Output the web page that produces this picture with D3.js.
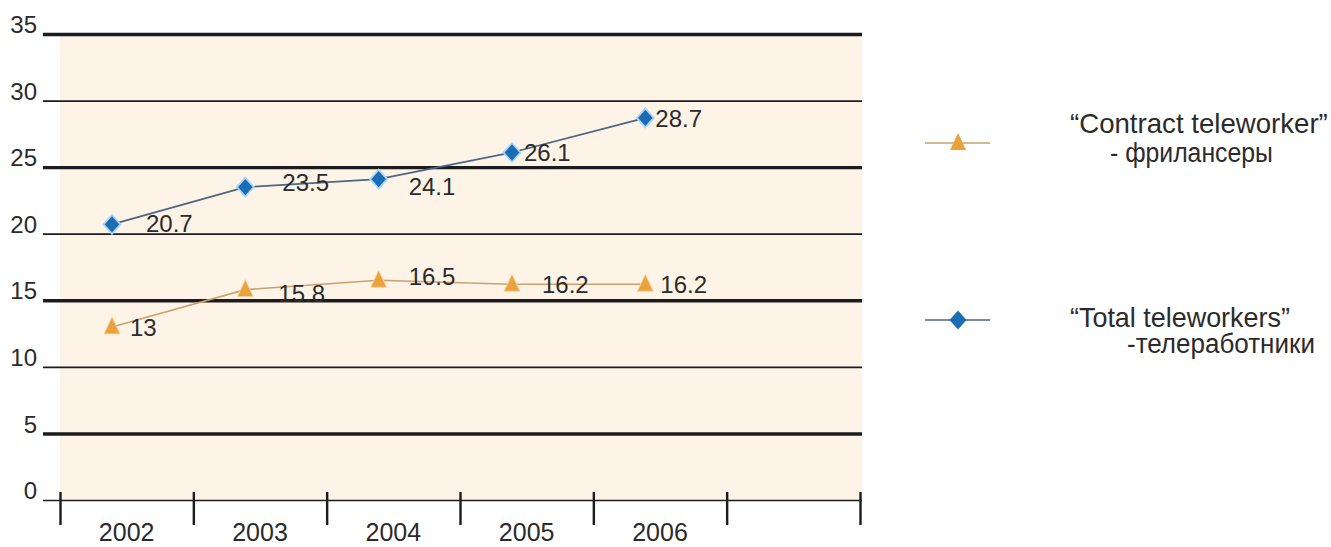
<!DOCTYPE html>
<html>
<head>
<meta charset="utf-8">
<script src="https://cdn.jsdelivr.net/npm/d3@7"></script>
<style>
  body { margin: 0; background: #fff; }
  text { font-family: "Liberation Sans", Arial, Helvetica, sans-serif; fill: #2b2b2b; }
</style>
</head>
<body>
<div id="chart"></div>
<script>
// data
var years = ["2002", "2003", "2004", "2005", "2006"];
var totalTele = [20.7, 23.5, 24.1, 26.1, 28.7];
var contractTele = [13, 15.8, 16.5, 16.2, 16.2];
var yTicks = [0, 5, 10, 15, 20, 25, 30, 35];

var svg = d3.select("#chart").append("svg")
  .attr("width", 1331)
  .attr("height", 547);

// scales: 6 slots on the x axis, last one empty
var slots = years.concat([""]);
var x = d3.scaleBand().domain(slots).range([60, 860]).padding(0);
var bw = x.bandwidth();
var px = function(i) { return x(years[i]) + bw * 0.39; };
var y = d3.scaleLinear().domain([0, 35]).range([500, 34]);

// beige plot area
svg.append("rect")
  .attr("x", 60)
  .attr("y", y(35) + 2)
  .attr("width", 802)
  .attr("height", y(0) - y(35) - 2)
  .attr("fill", "#fdf3e7");

// y axis with gridlines
var yAxis = svg.append("g")
  .attr("transform", "translate(43,0)")
  .call(d3.axisLeft(y).tickValues(yTicks).tickSize(-819).tickPadding(6));
yAxis.select(".domain").remove();
yAxis.selectAll(".tick line")
  .attr("stroke", "#1c1c1c")
  .attr("stroke-width", function(d) { return d === 0 ? 1.6 : (d % 10 === 5 ? 3.4 : 1.8); });
yAxis.selectAll(".tick text")
  .attr("y", -9)
  .style("font-size", "24px")
  .style("font-family", "'Liberation Sans', Arial, sans-serif")
  .attr("fill", "#2b2b2b");

// x ticks at slot boundaries
var xb = d3.scaleLinear().domain([0, slots.length]).range([60, 860]);
var xAxis = svg.append("g")
  .attr("transform", "translate(0," + y(0) + ")")
  .call(d3.axisBottom(xb).ticks(slots.length).tickFormat(""));
xAxis.select(".domain").remove();
xAxis.selectAll(".tick line")
  .attr("y1", -8)
  .attr("y2", 25)
  .attr("stroke", "#1c1c1c")
  .attr("stroke-width", 2.4);

svg.selectAll(".year")
  .data(years)
  .enter().append("text")
  .attr("class", "year")
  .attr("x", function(d) { return x(d) + bw / 2; })
  .attr("y", 541)
  .attr("text-anchor", "middle")
  .style("font-size", "25px")
  .text(function(d) { return d; });

// marker shapes
var diamond = "M0,-9.5L8.5,0L0,9.5L-8.5,0Z";
var triangle = "M0,-10L8,7L-8,7Z";

var line = d3.line()
  .x(function(d, i) { return px(i); })
  .y(function(d) { return y(d); });

svg.append("path")
  .datum(contractTele)
  .attr("d", line)
  .attr("fill", "none")
  .attr("stroke", "#c9a26f")
  .attr("stroke-width", 1.6);

svg.append("path")
  .datum(totalTele)
  .attr("d", line)
  .attr("fill", "none")
  .attr("stroke", "#4b6584")
  .attr("stroke-width", 1.6);

// value labels (small nudges so they sit like the original)
var totalShift = [34, 37, 30, 12, 10];
var totalDrop = [8, 4, 16, 9, 9];
var contractShift = [18, 33, 30, 30, 15];
var contractDrop = [9, 12, 5, 9, 9];

svg.selectAll(".tlab")
  .data(totalTele)
  .enter().append("text")
  .attr("x", function(d, i) { return px(i) + totalShift[i]; })
  .attr("y", function(d, i) { return y(d) + totalDrop[i]; })
  .style("font-size", "24px")
  .text(function(d) { return d; });

svg.selectAll(".clab")
  .data(contractTele)
  .enter().append("text")
  .attr("x", function(d, i) { return px(i) + contractShift[i]; })
  .attr("y", function(d, i) { return y(d) + contractDrop[i]; })
  .style("font-size", "24px")
  .text(function(d) { return d; });

svg.selectAll(".tri")
  .data(contractTele)
  .enter().append("path")
  .attr("d", triangle)
  .attr("transform", function(d, i) { return "translate(" + px(i) + "," + y(d) + ")"; })
  .attr("fill", "#e9a23c")
  .attr("stroke", "#f6d7a4")
  .attr("stroke-width", 1);

svg.selectAll(".dia")
  .data(totalTele)
  .enter().append("path")
  .attr("d", diamond)
  .attr("transform", function(d, i) { return "translate(" + px(i) + "," + y(d) + ")"; })
  .attr("fill", "#1c6cb4")
  .attr("stroke", "#a9d6f3")
  .attr("stroke-width", 1.8);

// legend: text, x, baseline, width
var legend = [
  { marker: triangle, fill: "#e9a23c", stroke: "#c9a26f", ly: 143,
    lines: [["\u201CContract teleworker\u201D", 1070, 133, 258], ["- \u0444\u0440\u0438\u043B\u0430\u043D\u0441\u0435\u0440\u044B", 1110, 162, 163]] },
  { marker: diamond, fill: "#1c6cb4", stroke: "#4b6584", ly: 320,
    lines: [["\u201CTotal teleworkers\u201D", 1070, 327, 220], ["-\u0442\u0435\u043B\u0435\u0440\u0430\u0431\u043E\u0442\u043D\u0438\u043A\u0438", 1127, 353, 188]] }
];

legend.forEach(function(l) {
  svg.append("line")
    .attr("x1", 925).attr("x2", 990)
    .attr("y1", l.ly).attr("y2", l.ly)
    .attr("stroke", l.stroke)
    .attr("stroke-width", 1.6);
  svg.append("path")
    .attr("d", l.marker)
    .attr("transform", "translate(958," + l.ly + ")")
    .attr("fill", l.fill);
  l.lines.forEach(function(t) {
    var txt = svg.append("text")
      .style("font-size", "27px")
      .text(t[0]);
    // squeeze/stretch to the width seen in the picture
    var sx = t[3] / txt.node().getComputedTextLength();
    txt.attr("transform", "translate(" + t[1] + "," + t[2] + ") scale(" + sx + ",1)");
  });
});
</script>
</body>
</html>
